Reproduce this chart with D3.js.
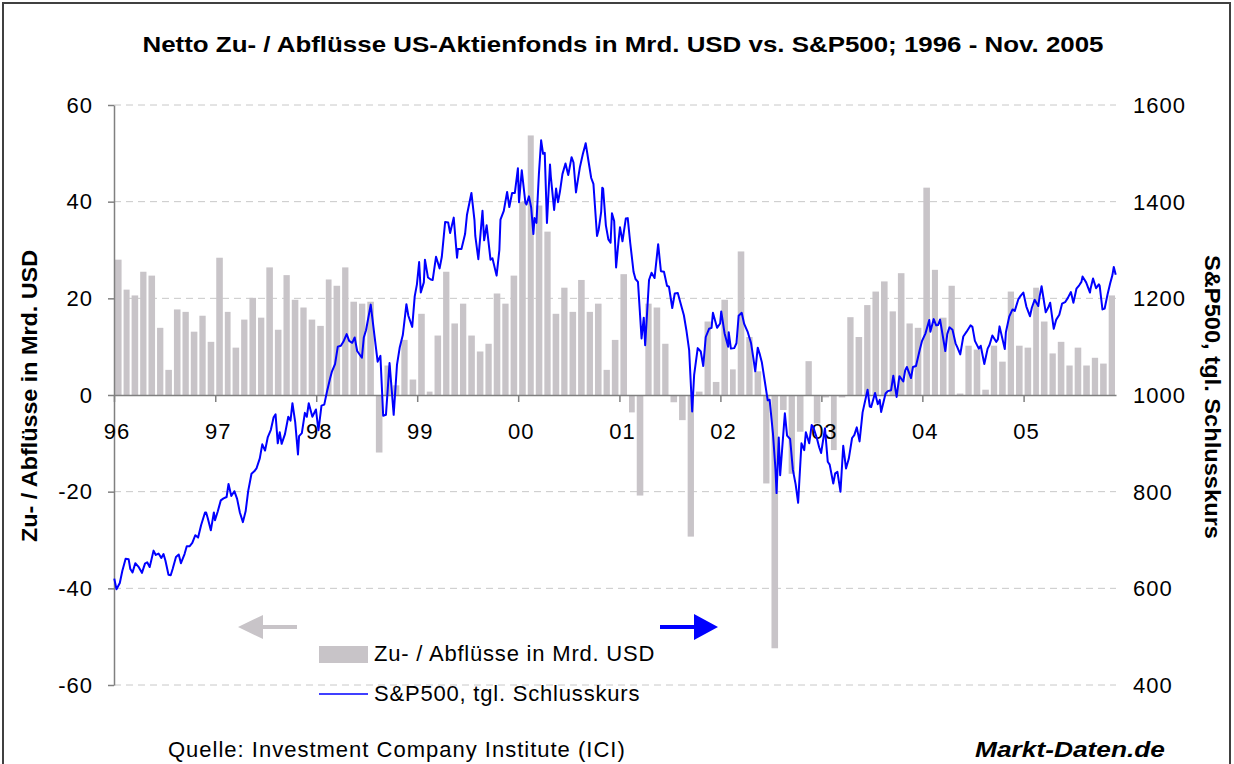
<!DOCTYPE html>
<html>
<head>
<meta charset="utf-8">
<script src="https://cdn.jsdelivr.net/npm/d3@7"></script>
<style>
  body { margin: 0; background: #fff; }
  svg { display: block; }
  text { font-family: "Liberation Sans", Arial, sans-serif; fill: #000; }
</style>
</head>
<body>
<div id="chart"></div>
<script>
// --------------- Data ---------------

// monthly net flows into US equity funds, bn USD, Jan 1996 - Nov 2005
const flows = [
  28.0, 21.8, 20.6, 25.5, 24.7, 13.9, 5.2, 17.7, 17.2, 13.1, 16.4, 11.0,   // 1996
  28.4, 17.2, 9.8, 15.6, 20.1, 16.0, 26.4, 13.5, 24.8, 19.7, 18.1, 15.6,   // 1997
  14.3, 23.9, 22.6, 26.4, 19.3, 18.9, 19.3, -11.9, 6.1, 2.0, 11.4, 3.2,    // 1998
  16.8, 0.7, 12.3, 25.5, 14.8, 18.9, 12.3, 9.0, 10.6, 21.0, 18.9, 24.7,    // 1999
  40.0, 53.7, 39.2, 33.8, 16.8, 22.2, 17.2, 23.8, 17.2, 18.9, 5.2, 11.4,   // 2000
  25.0, -3.6, -20.8, 18.9, 18.1, 10.6, -1.5, -5.2, -29.3, 0.7, 15.2, 2.7,  // 2001
  19.7, 5.3, 29.7, 12.0, 4.9, -18.3, -52.4, -3.1, -16.3, -7.6, 7.0, -5.9,  // 2002
  -0.5, -11.4, -0.5, 16.1, 12.0, 18.6, 21.4, 23.5, 17.3, 25.2, 14.8, 13.9, // 2003
  42.9, 25.9, 16.0, 22.6, 0.3, 10.2, 9.4, 1.1, 10.2, 6.9, 21.4, 10.2,      // 2004
  9.8, 22.2, 15.2, 8.6, 11.0, 6.1, 9.8, 6.1, 7.7, 6.5, 20.6                // 2005
];

// S&P 500 closing prices
const spx = [
  ["1996-01-02", 620], ["1996-01-10", 598], ["1996-01-22", 611], ["1996-01-31", 636],
  ["1996-02-12", 661], ["1996-02-23", 660], ["1996-02-29", 640],
  ["1996-03-08", 633], ["1996-03-18", 652], ["1996-03-29", 645],
  ["1996-04-11", 632], ["1996-04-22", 651], ["1996-04-30", 654],
  ["1996-05-09", 644], ["1996-05-23", 678], ["1996-05-31", 669],
  ["1996-06-10", 672], ["1996-06-20", 663], ["1996-06-28", 671],
  ["1996-07-05", 657], ["1996-07-16", 628], ["1996-07-24", 627], ["1996-07-31", 640],
  ["1996-08-12", 665], ["1996-08-22", 670], ["1996-08-30", 652],
  ["1996-09-12", 671], ["1996-09-20", 687], ["1996-09-30", 687],
  ["1996-10-10", 694], ["1996-10-21", 710], ["1996-10-31", 705],
  ["1996-11-11", 731], ["1996-11-25", 757], ["1996-11-29", 757],
  ["1996-12-05", 745], ["1996-12-16", 720], ["1996-12-27", 757], ["1996-12-31", 741],
  ["1997-01-10", 759], ["1997-01-21", 782], ["1997-01-31", 786],
  ["1997-02-11", 789], ["1997-02-18", 816], ["1997-02-28", 791],
  ["1997-03-11", 801], ["1997-03-21", 785], ["1997-03-31", 757],
  ["1997-04-11", 737], ["1997-04-21", 760], ["1997-04-30", 801],
  ["1997-05-12", 837], ["1997-05-22", 842], ["1997-05-30", 848],
  ["1997-06-11", 869], ["1997-06-20", 898], ["1997-06-30", 885],
  ["1997-07-10", 913], ["1997-07-21", 928], ["1997-07-31", 954],
  ["1997-08-07", 960], ["1997-08-15", 900], ["1997-08-22", 923], ["1997-08-29", 899],
  ["1997-09-10", 919], ["1997-09-22", 955], ["1997-09-30", 947],
  ["1997-10-07", 983], ["1997-10-17", 944], ["1997-10-27", 877], ["1997-10-31", 915],
  ["1997-11-10", 921], ["1997-11-21", 963], ["1997-11-28", 955],
  ["1997-12-05", 983], ["1997-12-18", 955], ["1997-12-31", 970],
  ["1998-01-09", 927], ["1998-01-20", 978], ["1998-01-30", 980],
  ["1998-02-10", 1010], ["1998-02-20", 1034], ["1998-02-27", 1049],
  ["1998-03-10", 1064], ["1998-03-20", 1100], ["1998-03-31", 1102],
  ["1998-04-09", 1110], ["1998-04-21", 1126], ["1998-04-30", 1112],
  ["1998-05-11", 1108], ["1998-05-20", 1119], ["1998-05-29", 1091],
  ["1998-06-15", 1077], ["1998-06-22", 1119], ["1998-06-30", 1134],
  ["1998-07-10", 1165], ["1998-07-17", 1187], ["1998-07-31", 1121],
  ["1998-08-11", 1069], ["1998-08-21", 1081], ["1998-08-31", 957],
  ["1998-09-10", 959], ["1998-09-23", 1066], ["1998-09-30", 1017],
  ["1998-10-08", 959], ["1998-10-20", 1063], ["1998-10-30", 1099],
  ["1998-11-10", 1124], ["1998-11-23", 1188], ["1998-11-30", 1164],
  ["1998-12-14", 1141], ["1998-12-23", 1204], ["1998-12-31", 1229],
  ["1999-01-08", 1275], ["1999-01-14", 1212], ["1999-01-25", 1233], ["1999-01-29", 1280],
  ["1999-02-09", 1243], ["1999-02-19", 1239], ["1999-02-26", 1238],
  ["1999-03-10", 1286], ["1999-03-23", 1262], ["1999-03-31", 1286],
  ["1999-04-12", 1358], ["1999-04-23", 1357], ["1999-04-30", 1335],
  ["1999-05-13", 1367], ["1999-05-25", 1284], ["1999-05-28", 1302],
  ["1999-06-10", 1302], ["1999-06-23", 1333], ["1999-06-30", 1373],
  ["1999-07-16", 1418], ["1999-07-27", 1362], ["1999-07-30", 1329],
  ["1999-08-10", 1281], ["1999-08-25", 1381], ["1999-08-31", 1320],
  ["1999-09-09", 1351], ["1999-09-23", 1280], ["1999-09-30", 1283],
  ["1999-10-15", 1247], ["1999-10-25", 1300], ["1999-10-29", 1363],
  ["1999-11-10", 1381], ["1999-11-22", 1420], ["1999-11-30", 1389],
  ["1999-12-10", 1418], ["1999-12-20", 1418], ["1999-12-31", 1469],
  ["2000-01-04", 1399], ["2000-01-14", 1465], ["2000-01-27", 1398], ["2000-01-31", 1394],
  ["2000-02-09", 1411], ["2000-02-17", 1388], ["2000-02-25", 1333], ["2000-02-29", 1366],
  ["2000-03-07", 1356], ["2000-03-16", 1458], ["2000-03-24", 1527], ["2000-03-31", 1499],
  ["2000-04-06", 1501], ["2000-04-14", 1356], ["2000-04-25", 1477], ["2000-04-28", 1452],
  ["2000-05-10", 1383], ["2000-05-17", 1427], ["2000-05-24", 1399], ["2000-05-31", 1421],
  ["2000-06-09", 1457], ["2000-06-20", 1479], ["2000-06-30", 1455],
  ["2000-07-12", 1492], ["2000-07-19", 1481], ["2000-07-28", 1419], ["2000-07-31", 1431],
  ["2000-08-11", 1471], ["2000-08-22", 1499], ["2000-08-31", 1518],
  ["2000-09-01", 1521], ["2000-09-12", 1481], ["2000-09-21", 1449], ["2000-09-29", 1437],
  ["2000-10-12", 1329], ["2000-10-18", 1342], ["2000-10-27", 1379], ["2000-10-31", 1429],
  ["2000-11-03", 1427], ["2000-11-13", 1351], ["2000-11-22", 1322], ["2000-11-30", 1315],
  ["2000-12-05", 1376], ["2000-12-13", 1360], ["2000-12-20", 1264], ["2000-12-29", 1320],
  ["2001-01-03", 1347], ["2001-01-12", 1318], ["2001-01-24", 1365], ["2001-01-31", 1366],
  ["2001-02-09", 1315], ["2001-02-21", 1255], ["2001-02-28", 1240],
  ["2001-03-09", 1234], ["2001-03-22", 1117], ["2001-03-30", 1160],
  ["2001-04-04", 1103], ["2001-04-18", 1238], ["2001-04-27", 1253],
  ["2001-05-08", 1242], ["2001-05-21", 1312], ["2001-05-31", 1256],
  ["2001-06-11", 1255], ["2001-06-22", 1226], ["2001-06-29", 1224],
  ["2001-07-11", 1180], ["2001-07-20", 1210], ["2001-07-31", 1211],
  ["2001-08-10", 1190], ["2001-08-22", 1165], ["2001-08-31", 1134],
  ["2001-09-10", 1093], ["2001-09-21", 966], ["2001-09-28", 1041],
  ["2001-10-11", 1097], ["2001-10-22", 1090], ["2001-10-31", 1060],
  ["2001-11-09", 1120], ["2001-11-21", 1137], ["2001-11-30", 1139],
  ["2001-12-05", 1170], ["2001-12-20", 1139], ["2001-12-31", 1148],
  ["2002-01-04", 1173], ["2002-01-16", 1128], ["2002-01-29", 1100], ["2002-01-31", 1130],
  ["2002-02-08", 1096], ["2002-02-20", 1097], ["2002-02-28", 1107],
  ["2002-03-08", 1164], ["2002-03-19", 1170], ["2002-03-28", 1147],
  ["2002-04-10", 1130], ["2002-04-22", 1107], ["2002-04-30", 1077],
  ["2002-05-07", 1049], ["2002-05-16", 1098], ["2002-05-24", 1083], ["2002-05-31", 1067],
  ["2002-06-10", 1030], ["2002-06-21", 989], ["2002-06-28", 990],
  ["2002-07-10", 920], ["2002-07-19", 847], ["2002-07-23", 797], ["2002-07-31", 912],
  ["2002-08-05", 834], ["2002-08-22", 962], ["2002-08-30", 916],
  ["2002-09-10", 909], ["2002-09-20", 845], ["2002-09-30", 815],
  ["2002-10-09", 777], ["2002-10-21", 900], ["2002-10-31", 886],
  ["2002-11-06", 923], ["2002-11-18", 900], ["2002-11-27", 938], ["2002-11-29", 936],
  ["2002-12-02", 935], ["2002-12-16", 910], ["2002-12-24", 892], ["2002-12-31", 880],
  ["2003-01-14", 931], ["2003-01-24", 862], ["2003-01-31", 856],
  ["2003-02-13", 817], ["2003-02-20", 838], ["2003-02-28", 841],
  ["2003-03-11", 800], ["2003-03-21", 895], ["2003-03-31", 848],
  ["2003-04-10", 868], ["2003-04-22", 911], ["2003-04-30", 917],
  ["2003-05-09", 933], ["2003-05-19", 904], ["2003-05-30", 964],
  ["2003-06-17", 1011], ["2003-06-25", 976], ["2003-06-30", 975],
  ["2003-07-14", 1004], ["2003-07-24", 981], ["2003-07-31", 990],
  ["2003-08-05", 965], ["2003-08-21", 1003], ["2003-08-29", 1008],
  ["2003-09-10", 1010], ["2003-09-18", 1040], ["2003-09-30", 996],
  ["2003-10-10", 1039], ["2003-10-24", 1028], ["2003-10-31", 1051],
  ["2003-11-06", 1058], ["2003-11-21", 1035], ["2003-11-28", 1058],
  ["2003-12-09", 1060], ["2003-12-22", 1092], ["2003-12-31", 1112],
  ["2004-01-12", 1127], ["2004-01-26", 1155], ["2004-01-30", 1131],
  ["2004-02-11", 1157], ["2004-02-20", 1144], ["2004-02-27", 1145],
  ["2004-03-05", 1156], ["2004-03-24", 1091], ["2004-03-31", 1126],
  ["2004-04-08", 1140], ["2004-04-19", 1135], ["2004-04-30", 1107],
  ["2004-05-07", 1098], ["2004-05-17", 1084], ["2004-05-28", 1121],
  ["2004-06-09", 1131], ["2004-06-23", 1144], ["2004-06-30", 1141],
  ["2004-07-09", 1112], ["2004-07-23", 1096], ["2004-07-30", 1102],
  ["2004-08-12", 1064], ["2004-08-24", 1096], ["2004-08-31", 1104],
  ["2004-09-10", 1123], ["2004-09-24", 1110], ["2004-09-30", 1115],
  ["2004-10-06", 1142], ["2004-10-25", 1095], ["2004-10-29", 1130],
  ["2004-11-10", 1162], ["2004-11-22", 1177], ["2004-11-30", 1174],
  ["2004-12-13", 1198], ["2004-12-21", 1205], ["2004-12-31", 1212],
  ["2005-01-11", 1183], ["2005-01-24", 1163], ["2005-01-31", 1181],
  ["2005-02-10", 1197], ["2005-02-23", 1184], ["2005-02-28", 1204],
  ["2005-03-07", 1225], ["2005-03-22", 1171], ["2005-03-31", 1181],
  ["2005-04-07", 1191], ["2005-04-20", 1137], ["2005-04-29", 1156],
  ["2005-05-10", 1166], ["2005-05-20", 1189], ["2005-05-31", 1192],
  ["2005-06-10", 1201], ["2005-06-21", 1213], ["2005-06-30", 1191],
  ["2005-07-11", 1220], ["2005-07-21", 1227], ["2005-07-29", 1234],
  ["2005-08-02", 1245], ["2005-08-15", 1233], ["2005-08-29", 1212], ["2005-08-31", 1220],
  ["2005-09-09", 1241], ["2005-09-20", 1221], ["2005-09-30", 1229],
  ["2005-10-03", 1226], ["2005-10-13", 1177], ["2005-10-21", 1179], ["2005-10-31", 1207],
  ["2005-11-10", 1231], ["2005-11-18", 1248], ["2005-11-23", 1265], ["2005-11-30", 1249]
];

const yearLabels = ["96", "97", "98", "99", "00", "01", "02", "03", "04", "05"];
const leftTicks = [-60, -40, -20, 0, 20, 40, 60];
const rightTicks = [400, 600, 800, 1000, 1200, 1400, 1600];

// --------------- Constants ---------------

const WIDTH = 1234;
const HEIGHT = 764;
const PLOT = { left: 114, right: 1116, top: 105, bottom: 685 };
const BAR_COLOR = "#c8c4c8";
const LINE_COLOR = "#0000ff";
const AXIS_COLOR = "#808080";
const START = new Date(1996, 0, 1);
const END = new Date(2005, 11, 1);

// --------------- Prep SVG ---------------

const svg = d3
  .select("#chart")
  .append("svg")
  .attr("width", WIDTH)
  .attr("height", HEIGHT);

svg
  .append("rect")
  .attr("x", 3)
  .attr("y", 3)
  .attr("width", 1227)
  .attr("height", 780)
  .attr("fill", "#fff")
  .attr("stroke", "#404040")
  .attr("stroke-width", 2);

const x = d3.scaleTime().domain([START, END]).range([PLOT.left, PLOT.right]);
const yL = d3.scaleLinear().domain([-60, 60]).range([PLOT.bottom, PLOT.top]);
const yR = d3.scaleLinear().domain([400, 1600]).range([PLOT.bottom, PLOT.top]);

const months = d3.timeMonth.range(START, END);
const years = d3.timeYear.range(START, END);
const parse = d3.timeParse("%Y-%m-%d");

// gridlines
svg
  .append("g")
  .selectAll("line")
  .data(leftTicks.filter((v) => v !== 0))
  .join("line")
  .attr("x1", PLOT.left)
  .attr("x2", PLOT.right)
  .attr("y1", (d) => yL(d))
  .attr("y2", (d) => yL(d))
  .attr("stroke", "#c8c8c8")
  .attr("stroke-dasharray", "7,5");

// bars
svg
  .append("g")
  .selectAll("rect")
  .data(months)
  .join("rect")
  .attr("x", (d) => x(d) + 1)
  .attr("width", (d) => x(d3.timeMonth.offset(d, 1)) - x(d) - 2)
  .attr("y", (d, i) => yL(Math.max(0, flows[i])))
  .attr("height", (d, i) => Math.abs(yL(flows[i]) - yL(0)))
  .attr("fill", BAR_COLOR);

// left axis (plain hyphen for negatives, as in the original)
const leftAxis = svg
  .append("g")
  .attr("transform", `translate(${PLOT.left},0)`)
  .call(
    d3
      .axisLeft(yL)
      .tickValues(leftTicks)
      .tickSize(6)
      .tickSizeOuter(0)
      .tickPadding(15)
      .tickFormat((d) => String(d))
  );
leftAxis.select(".domain").attr("stroke", AXIS_COLOR).attr("stroke-width", 1.5);
leftAxis.selectAll(".tick line").attr("stroke", AXIS_COLOR).attr("stroke-width", 1.5);
leftAxis
  .selectAll(".tick text")
  .attr("font-size", 22)
  .attr("letter-spacing", 1)
  .attr("font-family", '"Liberation Sans", Arial, sans-serif');

// zero line with year ticks
const xAxis = svg
  .append("g")
  .attr("transform", `translate(0,${yL(0)})`)
  .call(d3.axisBottom(x).tickValues(years).tickSize(7).tickSizeOuter(0).tickFormat(""));
xAxis.select(".domain").attr("stroke", AXIS_COLOR).attr("stroke-width", 1.5);
xAxis.selectAll(".tick line").attr("stroke", AXIS_COLOR).attr("stroke-width", 1.5);

svg
  .append("g")
  .selectAll("text")
  .data(years)
  .join("text")
  .attr("x", (d) => x(d) + 3)
  .attr("y", 439)
  .attr("text-anchor", "middle")
  .attr("font-size", 22)
  .attr("letter-spacing", 1)
  .text((d, i) => yearLabels[i]);

// right axis labels
svg
  .append("g")
  .selectAll("text")
  .data(rightTicks)
  .join("text")
  .attr("x", 1133)
  .attr("y", (d) => yR(d))
  .attr("dy", "0.36em")
  .attr("font-size", 22)
  .attr("letter-spacing", 1)
  .text((d) => d);

// S&P 500 line
const line = d3
  .line()
  .x((d) => x(parse(d[0])))
  .y((d) => yR(d[1]));

svg
  .append("path")
  .datum(spx)
  .attr("d", line)
  .attr("fill", "none")
  .attr("stroke", LINE_COLOR)
  .attr("stroke-width", 2)
  .attr("stroke-linejoin", "round");

// --------------- Texts ---------------

svg
  .append("text")
  .attr("x", 623)
  .attr("y", 52)
  .attr("text-anchor", "middle")
  .attr("font-size", 22)
  .attr("font-weight", "bold")
  .attr("textLength", 961)
  .attr("lengthAdjust", "spacingAndGlyphs")
  .text("Netto Zu- / Abflüsse US-Aktienfonds in Mrd. USD vs. S&P500; 1996 - Nov. 2005");

svg
  .append("text")
  .attr("transform", "translate(37,396) rotate(-90)")
  .attr("text-anchor", "middle")
  .attr("font-size", 22)
  .attr("font-weight", "bold")
  .attr("textLength", 292)
  .attr("lengthAdjust", "spacingAndGlyphs")
  .text("Zu- / Abflüsse in Mrd. USD");

svg
  .append("text")
  .attr("transform", "translate(1205,397) rotate(90)")
  .attr("text-anchor", "middle")
  .attr("font-size", 22)
  .attr("font-weight", "bold")
  .attr("textLength", 284)
  .attr("lengthAdjust", "spacingAndGlyphs")
  .text("S&P500, tgl. Schlusskurs");

// direction arrows
svg
  .append("path")
  .attr("d", "M238,627 L263,615 L263,625 L297,625 L297,629 L263,629 L263,639 Z")
  .attr("fill", BAR_COLOR);
svg
  .append("path")
  .attr("d", "M660,625 L694,625 L694,614 L718,627 L694,640 L694,629 L660,629 Z")
  .attr("fill", LINE_COLOR);

// legend
svg
  .append("rect")
  .attr("x", 319)
  .attr("y", 646)
  .attr("width", 49)
  .attr("height", 17)
  .attr("fill", BAR_COLOR);
svg
  .append("text")
  .attr("x", 374)
  .attr("y", 661)
  .attr("font-size", 22)
  .attr("letter-spacing", 0.8)
  .text("Zu- / Abflüsse in Mrd. USD");
svg
  .append("line")
  .attr("x1", 319)
  .attr("x2", 368)
  .attr("y1", 694)
  .attr("y2", 694)
  .attr("stroke", LINE_COLOR)
  .attr("stroke-width", 1.5);
svg
  .append("text")
  .attr("x", 374)
  .attr("y", 701)
  .attr("font-size", 22)
  .attr("letter-spacing", 0.8)
  .text("S&P500, tgl. Schlusskurs");

svg
  .append("text")
  .attr("x", 168)
  .attr("y", 757)
  .attr("font-size", 22)
  .attr("letter-spacing", 1)
  .text("Quelle: Investment Company Institute (ICI)");

svg
  .append("text")
  .attr("x", 975)
  .attr("y", 757)
  .attr("font-size", 22)
  .attr("font-weight", "bold")
  .attr("font-style", "italic")
  .attr("textLength", 190)
  .attr("lengthAdjust", "spacingAndGlyphs")
  .text("Markt-Daten.de");
</script>
</body>
</html>
